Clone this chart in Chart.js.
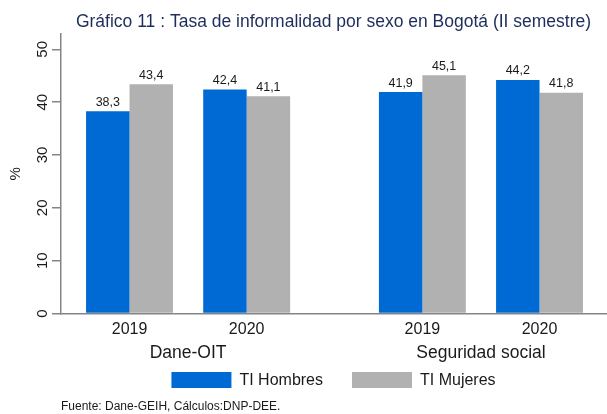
<!DOCTYPE html>
<html>
<head>
<meta charset="utf-8">
<script src="https://cdn.jsdelivr.net/npm/chart.js@4"></script>
<style>
  html, body { margin: 0; padding: 0; background: #ffffff; }
  #wrap { width: 607px; height: 414px; }
</style>
</head>
<body>
<div id="wrap"><canvas id="c" width="607" height="414"></canvas></div>
<script>
// ---- data ----
const years = ['2019', '2020', '2019', '2020'];
const groups = ['Dane-OIT', 'Seguridad social'];
const hombres = [38.3, 42.4, 41.9, 44.2];
const mujeres = [43.4, 41.1, 45.1, 41.8];
const yTicks = [0, 10, 20, 30, 40, 50];
const seriesNames = ['TI Hombres', 'TI Mujeres'];
const titleText = 'Gráfico 11 : Tasa de informalidad por sexo en Bogotá (II semestre)';
const footerText = 'Fuente: Dane-GEIH, Cálculos:DNP-DEE.';

// layout of the clustered categories: 2 years per group, a wider gap between groups
const perGroup = 2, step = 2, groupGap = 3;
const xPos = years.map((_, i) => Math.floor(i / perGroup) * (perGroup * step + groupGap - step) + (i % perGroup) * step);
const groupPos = groups.map((_, g) => (xPos[g * perGroup] + xPos[g * perGroup + perGroup - 1]) / 2);

const FONT = "'Liberation Sans', Arial, Helvetica, sans-serif";

const valueLabels = {
  id: 'valueLabels',
  afterDatasetsDraw(chart) {
    const ctx = chart.ctx;
    ctx.save();
    ctx.font = '12.5px ' + FONT;
    ctx.fillStyle = '#1a1a1a';
    ctx.textAlign = 'center';
    ctx.textBaseline = 'alphabetic';
    chart.data.datasets.forEach((ds, di) => {
      const meta = chart.getDatasetMeta(di);
      meta.data.forEach((bar, i) => {
        const v = ds.data[i].y;
        ctx.fillText(v.toFixed(1).replace('.', ','), bar.x, bar.y - 5.5);
      });
    });
    ctx.restore();
  }
};

// second row of category labels (group names), placed through the x scale
const groupLabels = {
  id: 'groupLabels',
  afterDraw(chart) {
    const ctx = chart.ctx;
    const xs = chart.scales.x;
    ctx.save();
    ctx.font = '17.5px ' + FONT;
    ctx.fillStyle = '#1a1a1a';
    ctx.textAlign = 'center';
    ctx.textBaseline = 'alphabetic';
    groups.forEach((g, i) => {
      ctx.fillText(g, xs.getPixelForValue(groupPos[i]), xs.bottom + 15);
    });
    ctx.restore();
  }
};

new Chart(document.getElementById('c'), {
  type: 'bar',
  data: {
    datasets: [
      {
        label: seriesNames[0],
        data: hombres.map((v, i) => ({ x: xPos[i], y: v })),
        backgroundColor: '#006ad4',
        borderWidth: 0
      },
      {
        label: seriesNames[1],
        data: mujeres.map((v, i) => ({ x: xPos[i], y: v })),
        backgroundColor: '#b1b1b1',
        borderWidth: 0
      }
    ]
  },
  options: {
    responsive: false,
    animation: false,
    devicePixelRatio: 1,
    layout: { padding: { left: 0, right: 1, top: 0, bottom: 0 } },
    datasets: { bar: { barPercentage: 1.0, categoryPercentage: 0.742, grouped: true } },
    scales: {
      x: {
        type: 'linear',
        position: 'bottom',
        offset: false,
        min: -1.17,
        max: 8.135,
        grid: { display: false, offset: false, drawTicks: false },
        border: { display: true, color: '#858585', width: 1.5 },
        afterBuildTicks: (s) => { s.ticks = xPos.map(v => ({ value: v })); },
        afterFit: (s) => { s.height = 29.6; },
        ticks: {
          autoSkip: false,
          maxRotation: 0,
          padding: 6.5,
          color: '#1a1a1a',
          font: { family: FONT, size: 16 },
          callback: (v, i) => years[i]
        }
      },
      y: {
        type: 'linear',
        position: 'left',
        min: 0,
        max: 52.9,
        afterBuildTicks: (s) => { s.ticks = yTicks.map(v => ({ value: v })); },
        afterFit: (s) => { s.width = 61; },
        grid: { drawOnChartArea: false, drawTicks: true, tickLength: 9, color: '#858585', lineWidth: 1.5 },
        border: { display: true, color: '#858585', width: 1.5 },
        ticks: {
          autoSkip: false,
          minRotation: 90,
          maxRotation: 90,
          crossAlign: 'center',
          padding: 1,
          color: '#1a1a1a',
          font: { family: FONT, size: 15 }
        },
        title: {
          display: true,
          text: '%',
          color: '#1a1a1a',
          font: { family: FONT, size: 15 },
          padding: { top: 7, bottom: 0 }
        }
      }
    },
    plugins: {
      title: {
        display: true,
        text: titleText,
        fullSize: false,
        color: '#1e2d5c',
        font: { family: FONT, size: 17.5, weight: 'normal' },
        padding: { top: 12, bottom: 1 }
      },
      legend: {
        display: true,
        position: 'bottom',
        fullSize: false,
        labels: {
          boxWidth: 60,
          boxHeight: 16,
          padding: 29,
          color: '#1a1a1a',
          font: { family: FONT, size: 16 }
        }
      },
      subtitle: {
        display: true,
        text: footerText,
        position: 'bottom',
        align: 'start',
        fullSize: false,
        color: '#1a1a1a',
        font: { family: FONT, size: 12, weight: 'normal' },
        padding: { top: 1.5, bottom: 0 }
      },
      tooltip: { enabled: false }
    }
  },
  plugins: [valueLabels, groupLabels]
});
</script>
</body>
</html>
